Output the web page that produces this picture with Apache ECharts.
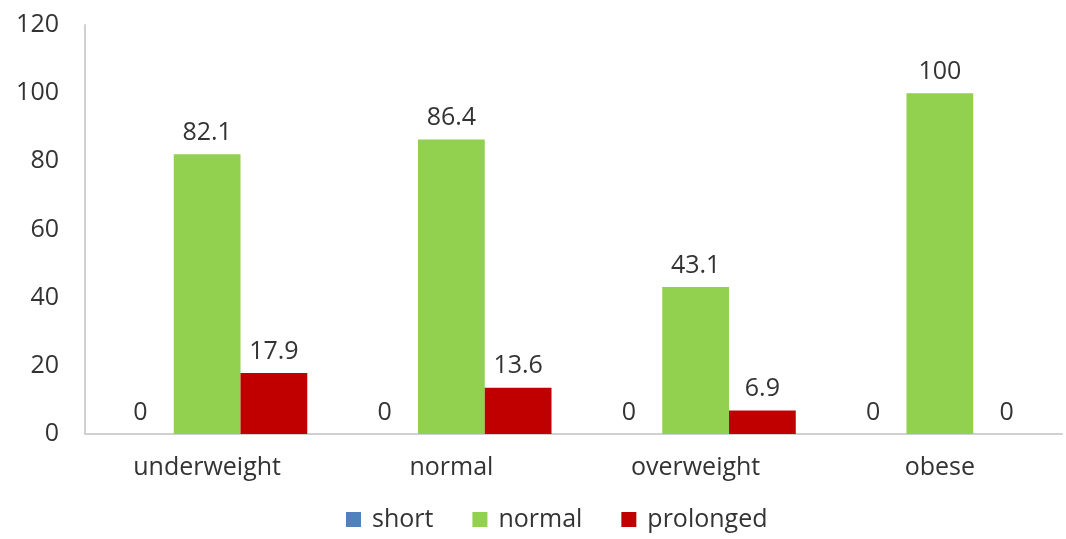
<!DOCTYPE html>
<html><head><meta charset="utf-8">
<script src="https://cdn.jsdelivr.net/npm/echarts@6/dist/echarts.min.js"></script>
<style>html,body{margin:0;padding:0;background:#fff}#c{width:1066px;height:539px}</style>
</head><body><div id="c"></div>
<script>
const categories = ['underweight', 'normal', 'overweight', 'obese'];
const shortVals = [0, 0, 0, 0];
const normalVals = [82.1, 86.4, 43.1, 100];
const prolongedVals = [17.9, 13.6, 6.9, 0];
const yTicks = { min: 0, max: 120, interval: 20 };

const font = 'Open Sans';
const txt = '#333333';
const fs = 25;
const lbl = { show: true, position: 'top', color: txt, fontSize: fs, fontFamily: font, distance: 9 };
const chart = echarts.init(document.getElementById('c'));
chart.setOption({
  animation: false,
  grid: { left: 85, right: 4, top: 25, bottom: 105, containLabel: false },
  legend: {
    bottom: 2, left: 341, itemWidth: 15, itemHeight: 15, itemGap: 39, icon: 'rect',
    textStyle: { color: txt, fontSize: fs, fontFamily: font, padding: [0, 0, 0, 6] }
  },
  xAxis: {
    type: 'category', data: categories,
    axisLine: { lineStyle: { color: '#d0d0d0', width: 2 } },
    axisTick: { show: false },
    axisLabel: { color: txt, fontSize: fs, fontFamily: font, margin: 21 }
  },
  yAxis: {
    type: 'value', min: yTicks.min, max: yTicks.max, interval: yTicks.interval,
    axisLine: { show: true, lineStyle: { color: '#d0d0d0', width: 2 } },
    axisTick: { show: false }, splitLine: { show: false },
    axisLabel: { color: txt, fontSize: fs, fontFamily: font, margin: 26 }
  },
  series: [
    { name: 'short', type: 'bar', data: shortVals, itemStyle: { color: '#4F81BD' }, label: lbl, barGap: '0%', barCategoryGap: '18%' },
    { name: 'normal', type: 'bar', data: normalVals, itemStyle: { color: '#92D050' }, label: lbl },
    { name: 'prolonged', type: 'bar', data: prolongedVals, itemStyle: { color: '#C00000' }, label: lbl }
  ]
});
</script></body></html>
